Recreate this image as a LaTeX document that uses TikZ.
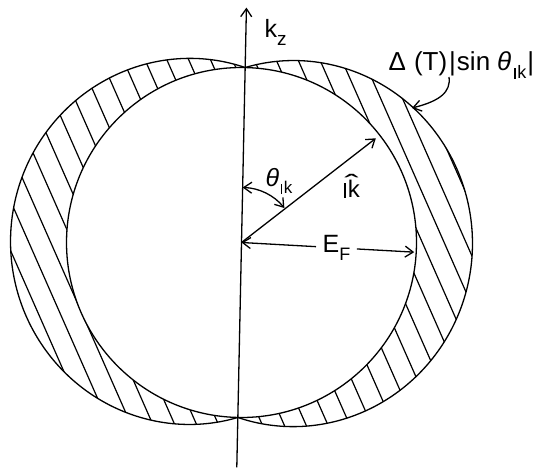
\documentclass[tikz,border=0pt]{standalone}
\usepackage{amssymb}
\usepackage{fontspec}
\setmainfont{Liberation Sans}
\usetikzlibrary{arrows.meta}
\newcommand{\lsub}[2]{\raisebox{-0.3em}{\fontsize{#1}{#1}\selectfont #2}}
\newcommand{\dk}[1]{{\fontsize{#1}{#1}\selectfont\rule{0.075em}{0.6em}\kern0.09em k}}
\begin{document}
\begin{tikzpicture}[x=1pt,y=-1pt,
  line width=1.3pt, line join=round,
  barb/.tip={Straight Barb[length=8pt,width=11pt]},
  tip/.style={-barb},
  hatch/.style={line width=1.2pt},
  lbl/.style={font=\fontsize{25}{29}\selectfont, inner sep=0pt}]
\useasboundingbox (0,0) rectangle (559,470);
\begin{scope}[shift={(241.5,242.5)}, rotate=-1.2]
  \coordinate (O) at (0,0);
  \coordinate (zt) at (0,-235);
  \coordinate (zb) at (0,225);
  \coordinate (kt) at (-39:170);
  \coordinate (th1) at (-90:55);
  \coordinate (er) at (2:173);
  % hatched band between Fermi sphere and gap surface
  \begin{scope}
    \clip plot[domain=0:360,samples=361] (\x:{175+56*abs(cos(\x))}) -- cycle;
    \foreach \i in {-13,...,13}
      \draw[hatch] ({\i*20*0.9063+6},{-\i*20*0.4226}) +({-260*0.4226},{-260*0.9063}) -- +({260*0.4226},{260*0.9063});
  \end{scope}
  \fill[white] (O) circle[radius=175];
  \draw (O) circle[radius=175];
  \draw plot[domain=0:360,samples=361] (\x:{175+56*abs(cos(\x))}) -- cycle;
  % axis and vectors
  \draw[tip] (zb) -- (zt);
  \draw[tip] (O) -- (kt);
  \draw[barb-barb] (th1) arc[start angle=-90,end angle=-40,radius=55];
  \path (O) -- (er) node[pos=0.55, lbl, inner xsep=6pt] (EF) {E\lsub{18}{F}};
  \draw[tip] (EF) -- (O);
  \draw[tip] (EF) -- (er);
\end{scope}
\node[lbl, anchor=base west] (kz) at (264,38) {k\lsub{19}{z}};
\node[lbl, font=\fontsize{26}{30}\selectfont, anchor=base west] (gap) at (388,71)
  {Δ\hspace{8pt}(T)\hspace{2pt}|\hspace{1pt}sin\hspace{7pt}{\itshape θ}\hspace{3pt}\lsub{18}{\dk{18}}\hspace{1pt}|};
\node[lbl] (theta) at (279,181) {{\itshape θ}\hspace{2pt}\lsub{17}{\dk{17}}};
\node[lbl] (khat) at (352,186) {\makebox[0pt][l]{\raisebox{0.22em}{\hspace{0.02em}\scalebox{1.7}[1]{ˆ}}}\dk{24}};
\coordinate (la) at (449,77);
\coordinate (lt) at (412,108);
\draw[tip] (la) .. controls (451,92) and (440,101) .. (lt);
\end{tikzpicture}
\end{document}
